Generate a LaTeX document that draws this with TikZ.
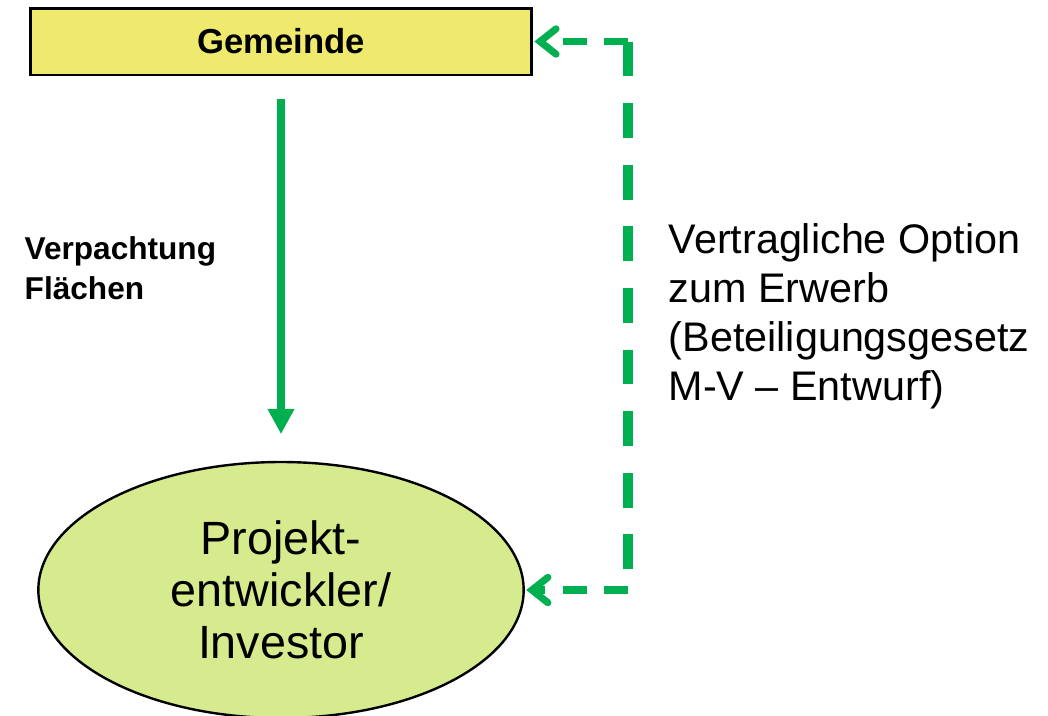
\documentclass[tikz,border=0pt]{standalone}
\usepackage{fontspec}
\setmainfont{Liberation Sans}
\usetikzlibrary{arrows.meta,shapes.geometric}
\definecolor{pfeilgruen}{HTML}{00B050}
\definecolor{boxgelb}{HTML}{EFE96E}
\definecolor{ovalgruen}{HTML}{D5EB8E}
\begin{document}
\begin{tikzpicture}[x=0.75pt, y=-0.75pt,
  kasten/.style={draw, line width=2pt, fill=boxgelb, minimum width=376pt, minimum height=50pt, inner sep=0pt, font=\fontsize{26}{30}\selectfont\bfseries},
  oval/.style={ellipse, draw, line width=1.8pt, fill=ovalgruen, minimum width=364pt, minimum height=192pt, inner sep=0pt, align=center, font=\fontsize{35}{39}\selectfont},
  vollpfeil/.style={pfeilgruen, line width=6pt, -{Triangle[length=19pt, width=19pt]}},
  optquer/.style={pfeilgruen, line width=5.3pt, dash pattern=on 18pt off 13pt, -{Straight Barb[length=12pt, width=19pt, line cap=round]}},
  optlang/.style={pfeilgruen, line width=6.8pt, dash pattern=on 26.2pt off 20pt}]
\useasboundingbox (0,0) rectangle (1048,715);
\node[kasten] (gemeinde) at (281,41.5) {Gemeinde};
\node[oval] (investor) at (281,590) {Projekt-\\entwickler/\\Investor};
\coordinate (knick) at (628,0);
%
\draw[vollpfeil, shorten <=17pt, shorten >=20pt] (gemeinde) -- (investor);
\draw[optlang] (gemeinde.east -| knick) -- (investor.east -| knick);
\draw[optquer, shorten >=1pt] (gemeinde.east -| knick) -- (gemeinde.east);
\draw[optquer, shorten >=1pt] (investor.east -| knick) -- (investor.east);
%
\node[anchor=west, align=left, font=\fontsize{23.7}{30}\selectfont\bfseries] (pacht) at (20,268) {Verpachtung\\Flächen};
\node[anchor=west, align=left, font=\fontsize{31}{36.7}\selectfont] (option) at (664,316) {Vertragliche Option\\zum Erwerb\\(Beteiligungsgesetz\\M-V – Entwurf)};
\end{tikzpicture}
\end{document}
